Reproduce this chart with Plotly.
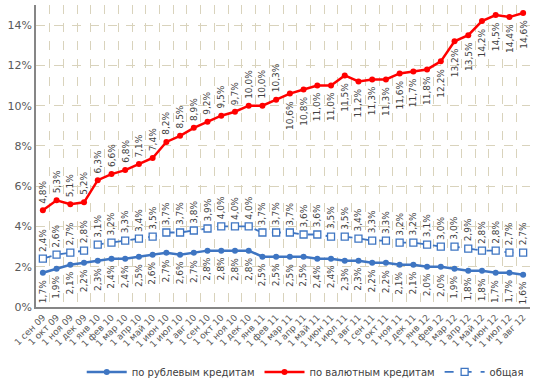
import plotly.graph_objects as go

categories = ["1 сен 09", "1 окт 09", "1 ноя 09", "1 дек 09", "1 янв 10", "1 фев 10", "1 мар 10",
              "1 апр 10", "1 май 10", "1 июн 10", "1 июл 10", "1 авг 10", "1 сен 10", "1 окт 10",
              "1 ноя 10", "1 дек 10", "1 янв 11", "1 фев 11", "1 мар 11", "1 апр 11", "1 май 11",
              "1 июн 11", "1 июл 11", "1 авг 11", "1 сен 11", "1 окт 11", "1 ноя 11", "1 дек 11",
              "1 янв 12", "1 фев 12", "1 мар 12", "1 апр 12", "1 май 12", "1 июн 12", "1 июл 12",
              "1 авг 12"]

ruble = [1.7, 1.9, 2.1, 2.2, 2.3, 2.4, 2.4, 2.5, 2.6, 2.7, 2.6, 2.7, 2.8, 2.8, 2.8, 2.8,
         2.5, 2.5, 2.5, 2.5, 2.4, 2.4, 2.3, 2.3, 2.2, 2.2, 2.1, 2.1, 2.0, 2.0, 1.9, 1.8,
         1.8, 1.7, 1.7, 1.6]
currency = [4.8, 5.3, 5.1, 5.2, 6.3, 6.6, 6.8, 7.1, 7.4, 8.2, 8.5, 8.9, 9.2, 9.5, 9.7, 10.0,
            10.0, 10.3, 10.6, 10.8, 11.0, 11.0, 11.5, 11.2, 11.3, 11.3, 11.6, 11.7, 11.8, 12.2,
            13.2, 13.5, 14.2, 14.5, 14.4, 14.6]
total = [2.4, 2.6, 2.7, 2.8, 3.1, 3.2, 3.3, 3.4, 3.5, 3.7, 3.7, 3.8, 3.9, 4.0, 4.0, 4.0,
         3.7, 3.7, 3.7, 3.6, 3.6, 3.5, 3.5, 3.4, 3.3, 3.3, 3.2, 3.2, 3.1, 3.0, 3.0, 2.9,
         2.8, 2.8, 2.7, 2.7]

names = ["по рублевым кредитам", "по валютным кредитам", "общая"]
tick_vals = [0, 2, 4, 6, 8, 10, 12, 14]
tick_text = ["0%", "2%", "4%", "6%", "8%", "10%", "12%", "14%"]

BLUE = "#3E75C2"
RED = "#FF0000"
FONT = "DejaVu Sans"
TXT = "#404040"

fig = go.Figure()
fig.add_trace(go.Scatter(x=categories, y=ruble, name=names[0], mode="lines+markers",
                         line=dict(color=BLUE, width=2.5),
                         marker=dict(symbol="circle", size=6, color=BLUE)))
fig.add_trace(go.Scatter(x=categories, y=currency, name=names[1], mode="lines+markers",
                         line=dict(color=RED, width=2.5),
                         marker=dict(symbol="circle", size=6, color=RED)))
fig.add_trace(go.Scatter(x=categories, y=total, name=names[2], mode="lines+markers",
                         line=dict(color=BLUE, width=1.8, dash="dash"),
                         marker=dict(symbol="square", size=7, color="white",
                                     line=dict(width=1.3, color=BLUE))))


def fmt(v):
    return ("%.1f%%" % v).replace(".", ",")


annotations = []
for i, c in enumerate(categories):
    annotations.append(dict(x=c, y=ruble[i], text=fmt(ruble[i]), textangle=-90, showarrow=False,
                            yanchor="top", yshift=-5, font=dict(family=FONT, size=9, color=TXT)))
    annotations.append(dict(x=c, y=total[i], text=fmt(total[i]), textangle=-90, showarrow=False,
                            yanchor="bottom", yshift=5, font=dict(family=FONT, size=9, color=TXT)))
    above = i < 18
    annotations.append(dict(x=c, y=currency[i], text=fmt(currency[i]), textangle=-90, showarrow=False,
                            yanchor="bottom" if above else "top", yshift=5 if above else -5,
                            font=dict(family=FONT, size=9, color=TXT)))

fig.update_layout(
    width=540, height=383,
    margin=dict(l=36, r=10, t=5, b=76, autoexpand=False),
    paper_bgcolor="white", plot_bgcolor="white",
    font=dict(family=FONT, color=TXT),
    showlegend=True,
    legend=dict(orientation="h", x=0.545, xanchor="center", y=-0.215, yanchor="middle",
                font=dict(family=FONT, size=10, color=TXT), itemwidth=40,
                traceorder="normal"),
    annotations=annotations,
    xaxis=dict(type="category", tickson="boundaries", showgrid=True, gridcolor="#D9D3BC",
               griddash="dash", gridwidth=1, tickangle=-45, automargin=False,
               tickfont=dict(family=FONT, size=9, color="#595959"),
               showline=True, linecolor="#868686", linewidth=1.5, ticks="", range=[-0.5, 35.5]),
    yaxis=dict(range=[0, 15], tickvals=tick_vals, ticktext=tick_text, showgrid=True,
               gridcolor="#D9D3BC", griddash="dash", gridwidth=1, automargin=False,
               tickfont=dict(family=FONT, size=11, color="#595959"),
               showline=True, linecolor="#868686", linewidth=1.5, zeroline=False, ticks=""),
)

fig.write_html("out.html", config={"displayModeBar": False},
               post_script="document.body.style.margin='0';")
